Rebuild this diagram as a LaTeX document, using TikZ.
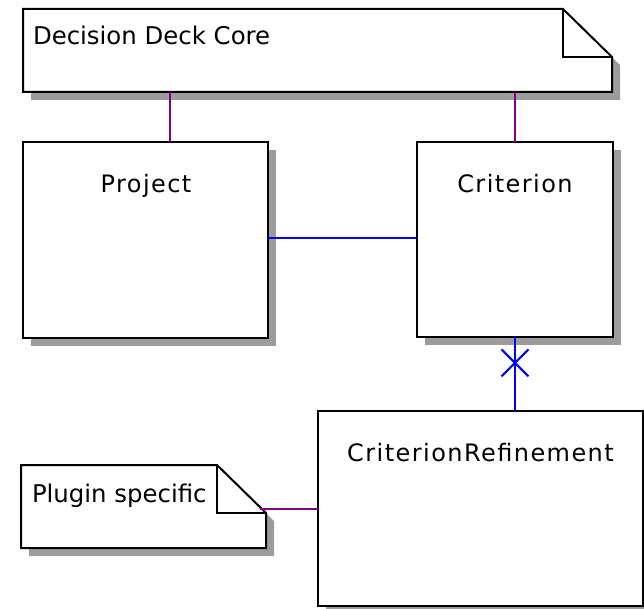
\documentclass[tikz,border=0pt]{standalone}
\usepackage{fontspec}
\setmainfont{DejaVu Sans}
\newfontfamily\classfont[LetterSpace=6]{DejaVu Sans}
\usetikzlibrary{shadows,shapes.misc,calc}
\definecolor{shadowgray}{RGB}{156,156,156}
\definecolor{linkpurple}{RGB}{128,0,128}
\definecolor{linkblue}{RGB}{0,0,255}

\begin{document}
\begin{tikzpicture}[x=1pt,y=-1pt,
  every node/.style={inner sep=0pt, outer sep=0pt},
  classbox/.style={rectangle, draw=black, line width=2pt, fill=white,
    drop shadow={shadow xshift=8pt, shadow yshift=-8pt, fill=shadowgray, opacity=1}},
  noteframe/.style={rectangle, draw=none},
  noteline/.style={draw=black, line width=2pt, line join=miter},
  classname/.style={font=\classfont\fontsize{24}{28}\selectfont, anchor=base},
  notetext/.style={font=\fontsize{24.4}{28}\selectfont, anchor=base west},
  corelink/.style={draw=linkpurple, line width=2pt},
  assoc/.style={draw=linkblue, line width=2pt}]

\useasboundingbox (0,0) rectangle (644,609);

% ---- note: Decision Deck Core ----
\node[noteframe, minimum width=589pt, minimum height=83pt] (core) at (317.5,50.5) {};
\coordinate (coreA) at ($(core.north east)+(-49,0)$);
\coordinate (coreB) at ($(core.north east)+(0,48)$);
\fill[shadowgray] ($(core.north west)+(8,8)$) -- ($(coreA)+(8,8)$) -- ($(coreB)+(8,8)$)
  -- ($(core.south east)+(8,8)$) -- ($(core.south west)+(8,8)$) -- cycle;
\path[noteline, fill=white] (core.north west) -- (coreA) -- (coreB) -- (core.south east)
  -- (core.south west) -- cycle;
\path[noteline] (coreA) -- (coreA |- coreB) -- (coreB);
\node[notetext] (coretext) at (33,45) {Decision Deck Core};

% ---- note: Plugin specific ----
\node[noteframe, minimum width=245pt, minimum height=83pt] (plugin) at (143.5,506.5) {};
\coordinate (plugA) at ($(plugin.north east)+(-49,0)$);
\coordinate (plugB) at ($(plugin.north east)+(0,48)$);
\fill[shadowgray] ($(plugin.north west)+(8,8)$) -- ($(plugA)+(8,8)$) -- ($(plugB)+(8,8)$)
  -- ($(plugin.south east)+(8,8)$) -- ($(plugin.south west)+(8,8)$) -- cycle;
\path[noteline, fill=white] (plugin.north west) -- (plugA) -- (plugB) -- (plugin.south east)
  -- (plugin.south west) -- cycle;
\path[noteline] (plugA) -- (plugA |- plugB) -- (plugB);
\node[notetext] (plugintext) at (32,502) {Plugin specific};
\coordinate (plugear) at ($(plugA)!0.885!(plugB)$);

% ---- classes ----
\node[classbox, minimum width=245pt, minimum height=196pt] (project) at (145.5,240) {};
\node[classname] (projectname) at (146,193) {Project};

\node[classbox, minimum width=196pt, minimum height=195pt] (criterion) at (515,239.5) {};
\node[classname] (criterionname) at (515,193) {Criterion};

\node[classbox, minimum width=325pt, minimum height=195pt] (refinement) at (480.5,508.5) {};
\node[classname] (refinementname) at (480.5,461) {CriterionRefinement};

% ---- connectors ----
\coordinate (projtop) at ([xshift=24.5pt]project.north);
\draw[corelink] (projtop) -- (projtop |- core.south);
\draw[corelink] (criterion.north) -- (criterion.north |- core.south);
\draw[corelink] (refinement.west) -- (refinement.west -| plugear);

\coordinate (assocleft) at ([yshift=2pt]project.east);
\draw[assoc] (assocleft) -- (assocleft -| criterion.west);
\coordinate (refinetop) at (criterion.south |- refinement.north);
\draw[assoc] (criterion.south) -- (refinetop)
  node[pos=0.35, cross out, draw=linkblue, line width=2pt, minimum size=27pt] (composite) {};
\end{tikzpicture}
\end{document}
